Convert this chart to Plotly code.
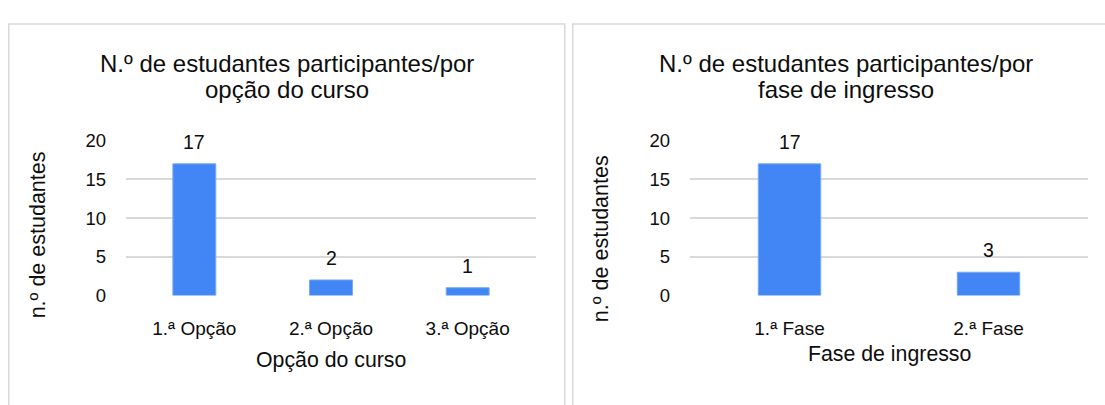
import plotly.graph_objects as go

W, H = 1105, 405

# ---- data ----
cat_opcao = ["1.ª Opção", "2.ª Opção", "3.ª Opção"]
val_opcao = [17, 2, 1]
cat_fase = ["1.ª Fase", "2.ª Fase"]
val_fase = [17, 3]

title_left = ["N.º de estudantes participantes/por", "opção do curso"]
title_right = ["N.º de estudantes participantes/por", "fase de ingresso"]
xtitle_left = "Opção do curso"
xtitle_right = "Fase de ingresso"
ytitle = "n.º de estudantes"
y_ticks = [0, 5, 10, 15, 20]
y_range = [0, 20]


def px(x):
    return x / W


def py(y):
    return 1 - y / H


FONT = "Liberation Sans, Arial, sans-serif"
TXT = "#0d0d0d"
BLUE = "#4285F4"
BAR_EDGE = "#79a9f6"
GRID = "#d9d9d9"

fig = go.Figure()
fig.add_trace(go.Bar(x=cat_opcao, y=val_opcao, xaxis="x", yaxis="y",
                     marker=dict(color=BLUE, line=dict(color=BAR_EDGE, width=1)),
                     width=0.314, hoverinfo="skip"))
fig.add_trace(go.Bar(x=cat_fase, y=val_fase, xaxis="x2", yaxis="y2",
                     marker=dict(color=BLUE, line=dict(color=BAR_EDGE, width=1)),
                     width=0.314, hoverinfo="skip"))

common_x = dict(showgrid=False, zeroline=False, showline=False, ticks="",
                tickfont=dict(family=FONT, size=19, color=TXT),
                ticklabelstandoff=20, fixedrange=True)
common_y = dict(range=y_range, tickvals=y_ticks, showgrid=True, gridcolor=GRID,
                gridwidth=1.5, zeroline=False, showline=False, ticks="",
                tickfont=dict(family=FONT, size=18.5, color=TXT),
                ticklabelstandoff=19, fixedrange=True)

fig.update_layout(
    width=W, height=H, margin=dict(l=0, r=0, t=0, b=0),
    paper_bgcolor="white", plot_bgcolor="white", showlegend=False,
    xaxis=dict(domain=[px(126), px(536)], anchor="y", **common_x),
    yaxis=dict(domain=[py(300), py(136.7)], anchor="x", **common_y),
    xaxis2=dict(domain=[px(690), px(1088)], anchor="y2", **common_x),
    yaxis2=dict(domain=[py(300), py(136.7)], anchor="x2", **common_y),
)

ann = []
# data labels
for xr, yr, cats, vals in (("x", "y", cat_opcao, val_opcao), ("x2", "y2", cat_fase, val_fase)):
    for c, v in zip(cats, vals):
        ann.append(dict(x=c, y=v, xref=xr, yref=yr, text=str(v), showarrow=False,
                        xanchor="center", yanchor="middle", yshift=21.8, borderpad=0,
                        font=dict(family=FONT, size=19.5, color=TXT)))

# titles (two lines each)
for cx, lines in ((286.75, title_left), (846, title_right)):
    for yy, line in zip((55.7, 82.7), lines):
        ann.append(dict(x=px(cx), y=py(yy), xref="paper", yref="paper", text=line,
                        showarrow=False, xanchor="center", yanchor="middle", borderpad=0,
                        font=dict(family=FONT, size=24, color=TXT)))

# x axis titles
ann.append(dict(x=px(331), y=py(367.6), xref="paper", yref="paper", text=xtitle_left,
                showarrow=False, xanchor="center", yanchor="middle", borderpad=0,
                font=dict(family=FONT, size=21.3, color=TXT)))
ann.append(dict(x=px(889), y=py(361.6), xref="paper", yref="paper", text=xtitle_right,
                showarrow=False, xanchor="center", yanchor="middle", borderpad=0,
                font=dict(family=FONT, size=21.3, color=TXT)))

# y axis titles
for cx, cy in ((37.6, 236), (600.6, 240)):
    ann.append(dict(x=px(cx), y=py(cy), xref="paper", yref="paper", text=ytitle,
                    textangle=-90, showarrow=False, xanchor="center", yanchor="middle",
                    borderpad=0, font=dict(family=FONT, size=21.5, color=TXT)))

fig.update_layout(annotations=ann)

# panel borders
shapes = []
for x0, x1 in ((8.75, 564.75), (572.75, 1125)):
    shapes.append(dict(type="rect", xref="paper", yref="paper",
                       x0=px(x0), x1=px(x1), y0=py(440), y1=py(13.75),
                       line=dict(color=GRID, width=1.5), fillcolor="rgba(0,0,0,0)",
                       layer="below"))
fig.update_layout(shapes=shapes)

fig.write_html("out.html")
